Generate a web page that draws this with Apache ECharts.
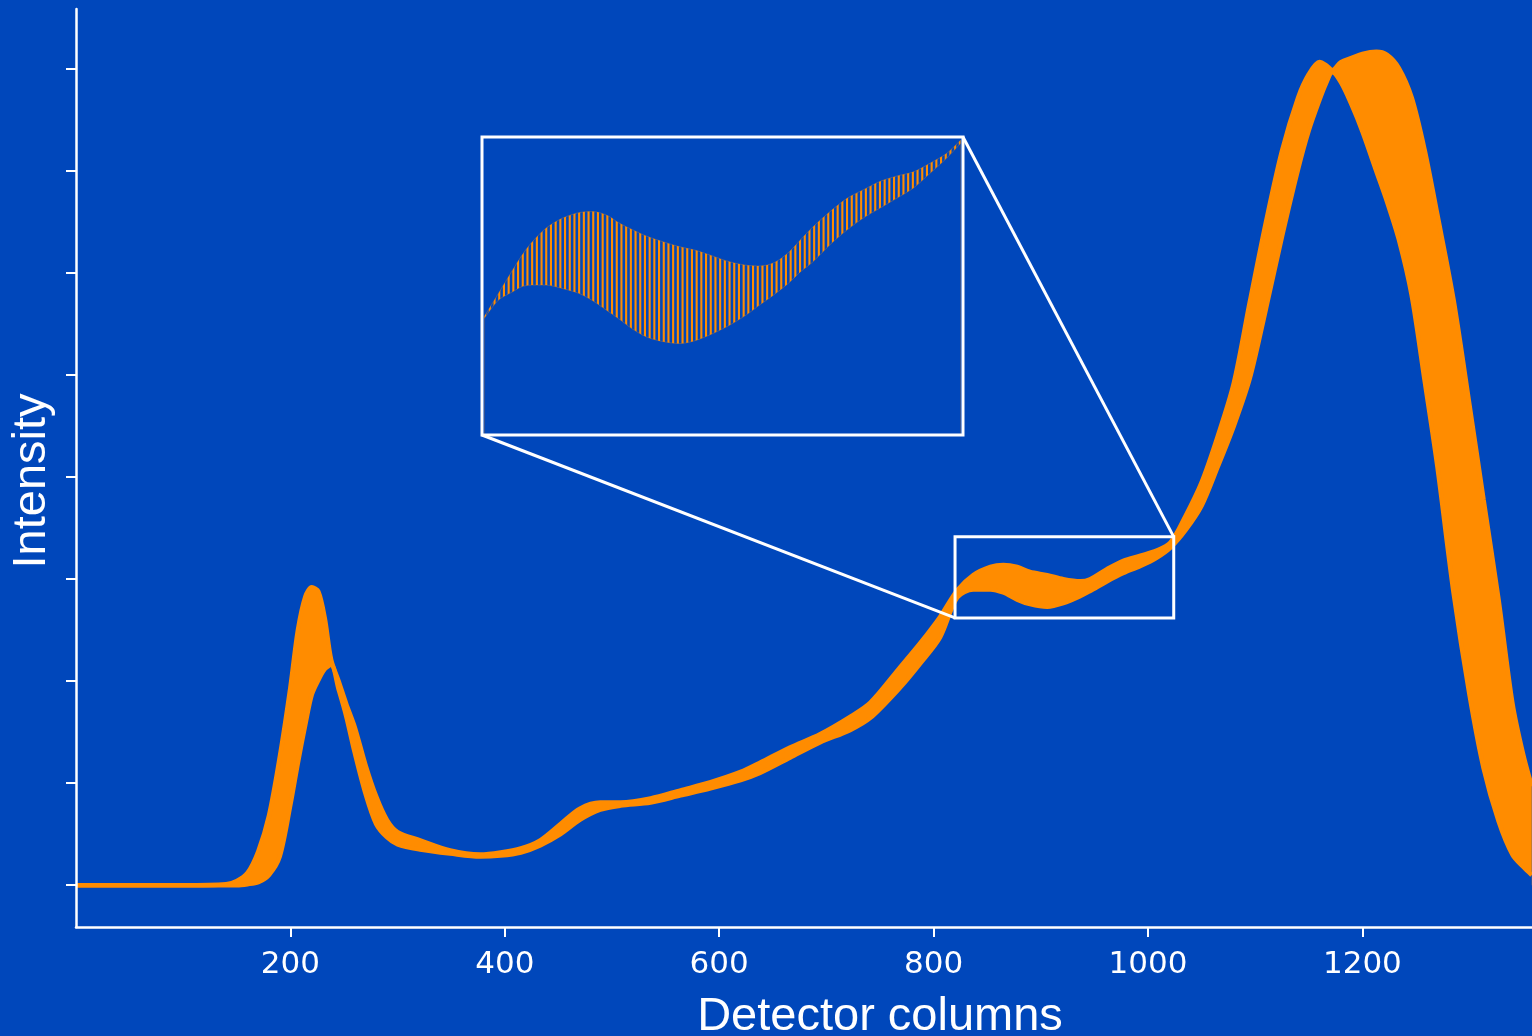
<!DOCTYPE html>
<html>
<head>
<meta charset="utf-8">
<script src="https://cdn.jsdelivr.net/npm/echarts@6/dist/echarts.min.js"></script>
<style>
html,body{margin:0;padding:0;background:#0047BB;}
#chart{width:1532px;height:1036px;}
</style>
</head>
<body>
<div id="chart"></div>
<script>
// ---------------- DATA ----------------
// Detector columns where the envelopes were sampled
const columns = [0, 100, 140, 150, 160, 170, 180, 190, 200, 207, 214, 220, 226, 232, 238, 245, 252, 260, 270, 280, 290, 300, 321, 349, 377, 396, 415, 433, 452, 470, 489, 508, 536, 564, 592, 620, 638, 666, 694, 722, 741, 769, 788, 806, 822, 837, 853, 865, 878, 890, 906, 921, 937, 946, 962, 977, 993, 1008, 1021, 1035, 1050, 1065, 1080, 1095, 1110, 1125, 1140, 1150, 1160, 1166, 1172, 1180, 1190, 1200, 1213, 1223, 1234, 1246, 1258, 1270, 1285, 1300, 1313, 1327, 1340, 1350, 1358];
// Upper envelope of the rapidly alternating signal
const upperEnvelope = [0, 0, 0.01, 0.04, 0.12, 0.33, 0.68, 1.25, 1.94, 2.50, 2.83, 2.92, 2.88, 2.62, 2.21, 2.00, 1.78, 1.55, 1.18, 0.87, 0.64, 0.52, 0.44, 0.34, 0.30, 0.32, 0.36, 0.44, 0.60, 0.75, 0.81, 0.81, 0.85, 0.93, 1.01, 1.11, 1.20, 1.35, 1.48, 1.65, 1.79, 2.14, 2.38, 2.63, 2.89, 3.04, 3.12, 3.14, 3.12, 3.07, 3.04, 3.00, 2.98, 3.00, 3.10, 3.18, 3.23, 3.28, 3.36, 3.62, 3.95, 4.40, 4.92, 5.72, 6.50, 7.20, 7.72, 7.95, 8.07, 8.04, 7.99, 8.07, 8.11, 8.15, 8.17, 8.14, 8.01, 7.72, 7.21, 6.57, 5.74, 4.70, 3.78, 2.80, 1.78, 1.28, 0.97];
// Lower envelope of the rapidly alternating signal
const lowerEnvelope = [0, 0, 0, 0, 0.01, 0.03, 0.10, 0.28, 0.79, 1.20, 1.58, 1.87, 2.01, 2.12, 2.16, 1.92, 1.66, 1.30, 0.90, 0.60, 0.47, 0.40, 0.35, 0.31, 0.28, 0.29, 0.32, 0.39, 0.50, 0.64, 0.74, 0.78, 0.81, 0.88, 0.95, 1.03, 1.10, 1.25, 1.40, 1.52, 1.64, 1.94, 2.18, 2.43, 2.82, 2.90, 2.90, 2.87, 2.80, 2.755, 2.73, 2.765, 2.835, 2.885, 2.98, 3.06, 3.13, 3.21, 3.31, 3.48, 3.72, 4.10, 4.50, 4.97, 5.65, 6.36, 7.02, 7.40, 7.70, 7.86, 7.97, 7.87, 7.65, 7.39, 7.00, 6.70, 6.33, 5.78, 4.95, 4.10, 2.87, 1.86, 1.15, 0.63, 0.30, 0.18, 0.10];

// Zoomed inset (columns 820 - 1024)
const insetColumns = [821, 827, 833, 837, 841, 847, 854, 861, 867, 873, 878, 884, 890, 897, 904, 911, 918, 925, 932, 938, 944, 950, 955, 960, 968, 975, 982, 989, 996, 1003, 1010, 1017, 1023];
const insetUpper = [2.936, 2.998, 3.060, 3.100, 3.133, 3.171, 3.198, 3.213, 3.216, 3.206, 3.186, 3.167, 3.150, 3.135, 3.122, 3.112, 3.097, 3.082, 3.073, 3.071, 3.080, 3.107, 3.140, 3.173, 3.218, 3.252, 3.275, 3.297, 3.311, 3.322, 3.345, 3.371, 3.407];
const insetLower = [2.931, 2.980, 3.002, 3.016, 3.020, 3.020, 3.011, 2.998, 2.978, 2.952, 2.930, 2.902, 2.881, 2.869, 2.864, 2.873, 2.891, 2.913, 2.940, 2.968, 2.995, 3.025, 3.055, 3.080, 3.130, 3.168, 3.200, 3.226, 3.252, 3.279, 3.318, 3.358, 3.398];
const insetXRange = [820, 1024];
const insetYRange = [2.62, 3.415];

// Axes
const xRange = [0, 1500];
const yRange = [-0.41, 8.59];
const xTickValues = [200, 400, 600, 800, 1000, 1200, 1400];
const yTickValues = [0, 1, 2, 3, 4, 5, 6, 7, 8];
const xTitle = 'Detector columns';
const yTitle = 'Intensity';

// ---------------- STYLE ----------------
const BG = '#0047BB';
const ORANGE = '#FF8C00';
const WHITE = '#FFFFFF';

function stripePattern() {
  const c = document.createElement('canvas');
  c.width = 47; c.height = 4;
  const g = c.getContext('2d');
  g.fillStyle = ORANGE;
  for (let i = 0; i < 10; i++) g.fillRect(i * 4.7, 0, 2.1, 4);
  return c;
}

const pairs = (xs, ys) => xs.map((x, i) => [x, ys[i]]);

const chart = echarts.init(document.getElementById('chart'), null, {renderer: 'canvas'});

const lineBase = {type: 'line', showSymbol: false, symbol: 'none', silent: true, animation: false, smooth: 0.3};

chart.setOption({
  backgroundColor: BG,
  animation: false,
  grid: [
    {left: 76, top: 9, width: 1608, bottom: 109, containLabel: false, outerBoundsMode: 'none'},
    {left: 482, top: 137, width: 481, height: 298, containLabel: false, outerBoundsMode: 'none'}
  ],
  xAxis: [
    {
      type: 'value', gridIndex: 0, min: xRange[0], max: xRange[1], z: 5,
      axisLine: {onZero: false, lineStyle: {color: WHITE, width: 2.5}},
      axisTick: {customValues: xTickValues, length: 10, lineStyle: {color: WHITE, width: 2}},
      axisLabel: {customValues: xTickValues, formatter: (v) => String(v), color: WHITE, fontFamily: 'DejaVu Sans', fontSize: 31, margin: 22},
      splitLine: {show: false},
      name: xTitle, nameLocation: 'middle', nameGap: 67,
      nameTextStyle: {color: WHITE, fontFamily: 'Liberation Sans', fontSize: 47}
    },
    {type: 'value', gridIndex: 1, min: insetXRange[0], max: insetXRange[1], show: false, splitLine: {show: false}}
  ],
  yAxis: [
    {
      type: 'value', gridIndex: 0, min: yRange[0], max: yRange[1], z: 5,
      axisLine: {onZero: false, lineStyle: {color: WHITE, width: 2.5}},
      axisTick: {customValues: yTickValues, length: 10, lineStyle: {color: WHITE, width: 2}},
      axisLabel: {show: false},
      splitLine: {show: false},
      name: yTitle, nameLocation: 'middle', nameGap: 20,
      nameTextStyle: {color: WHITE, fontFamily: 'Liberation Sans', fontSize: 47, padding: [0, 26, 0, 0]}
    },
    {type: 'value', gridIndex: 1, min: insetYRange[0], max: insetYRange[1], show: false, splitLine: {show: false}}
  ],
  series: [
    // main band: orange fill under upper envelope, then background fill under lower envelope
    Object.assign({}, lineBase, {
      data: pairs(columns, upperEnvelope), xAxisIndex: 0, yAxisIndex: 0,
      lineStyle: {opacity: 0}, areaStyle: {color: ORANGE, opacity: 1}, z: 2
    }),
    Object.assign({}, lineBase, {
      data: pairs(columns, lowerEnvelope), xAxisIndex: 0, yAxisIndex: 0,
      lineStyle: {opacity: 0}, areaStyle: {color: BG, opacity: 1, origin: 'start'}, z: 2
    }),
    Object.assign({}, lineBase, {
      data: pairs(columns, upperEnvelope), xAxisIndex: 0, yAxisIndex: 0,
      lineStyle: {color: ORANGE, width: 4.5}, z: 3
    }),
    Object.assign({}, lineBase, {
      data: pairs(columns, lowerEnvelope), xAxisIndex: 0, yAxisIndex: 0,
      lineStyle: {color: ORANGE, width: 4.5}, z: 3
    }),
    // inset: oscillation rendered as fine stripes between the envelopes
    Object.assign({}, lineBase, {
      data: pairs(insetColumns, insetUpper), xAxisIndex: 1, yAxisIndex: 1,
      lineStyle: {color: ORANGE, width: 1, opacity: 0.3},
      areaStyle: {color: {image: stripePattern(), repeat: 'repeat'}, opacity: 1}, z: 4
    }),
    Object.assign({}, lineBase, {
      data: pairs(insetColumns, insetLower), xAxisIndex: 1, yAxisIndex: 1,
      lineStyle: {color: ORANGE, width: 1, opacity: 0.3},
      areaStyle: {color: BG, opacity: 1}, z: 4
    })
  ]
});

// Zoom box, inset frame and connector lines, all placed through the axes' scales
const p0 = (v) => chart.convertToPixel({gridIndex: 0}, v);
const p1 = (v) => chart.convertToPixel({gridIndex: 1}, v);
const boxBL = p0([insetXRange[0], insetYRange[0]]);
const boxTR = p0([insetXRange[1], insetYRange[1]]);
const insBL = p1([insetXRange[0], insetYRange[0]]);
const insTR = p1([insetXRange[1], insetYRange[1]]);
const stroke = {stroke: WHITE, lineWidth: 3, fill: null};
chart.setOption({
  graphic: [
    {type: 'rect', z: 50, silent: true, shape: {x: boxBL[0], y: boxTR[1], width: boxTR[0] - boxBL[0], height: boxBL[1] - boxTR[1]}, style: stroke},
    {type: 'rect', z: 50, silent: true, shape: {x: insBL[0], y: insTR[1], width: insTR[0] - insBL[0], height: insBL[1] - insTR[1]}, style: stroke},
    {type: 'line', z: 50, silent: true, shape: {x1: insBL[0], y1: insBL[1], x2: boxBL[0], y2: boxBL[1]}, style: {stroke: WHITE, lineWidth: 3}},
    {type: 'line', z: 50, silent: true, shape: {x1: insTR[0], y1: insTR[1], x2: boxTR[0], y2: boxTR[1]}, style: {stroke: WHITE, lineWidth: 3}}
  ]
});
</script>
</body>
</html>
